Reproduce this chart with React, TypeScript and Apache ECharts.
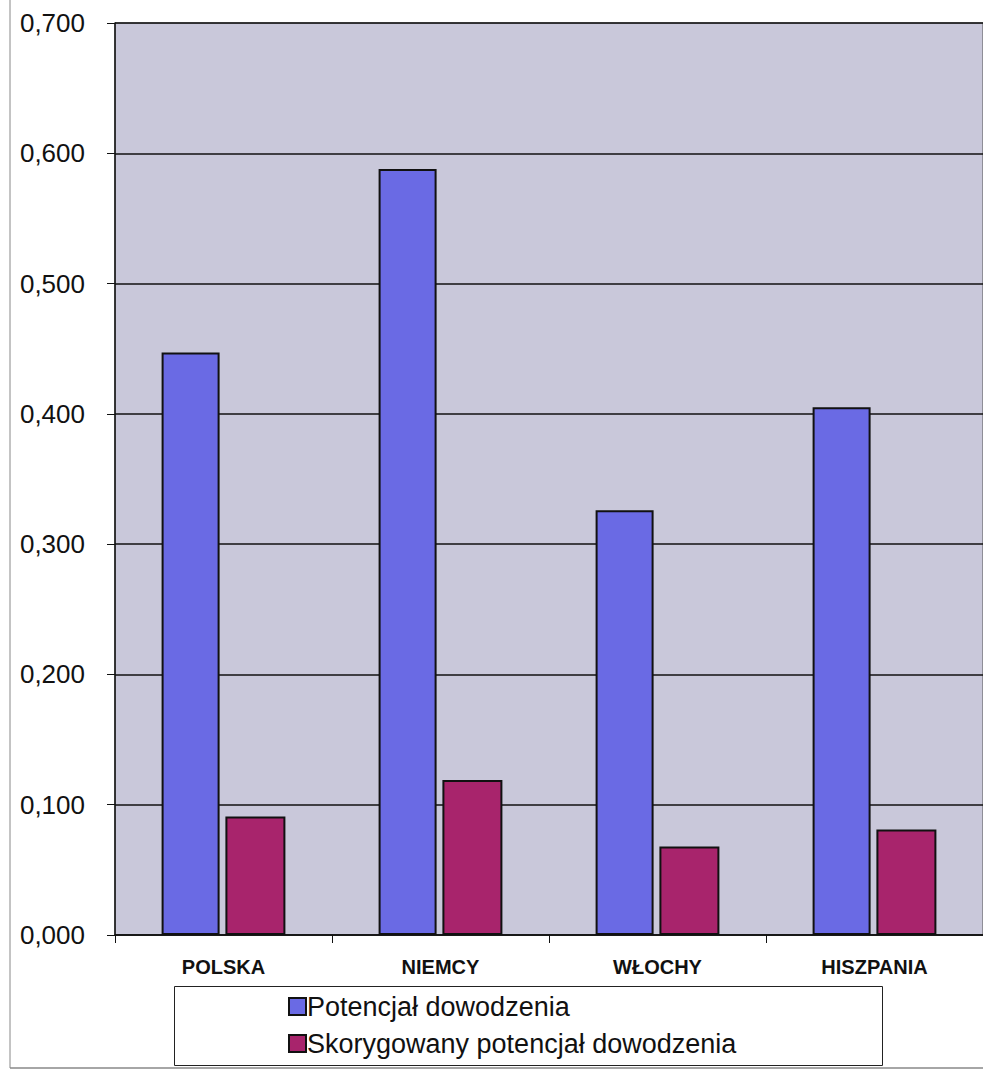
import React, { useEffect, useRef } from "react";
import * as echarts from "echarts";

const categories = ["POLSKA", "NIEMCY", "WŁOCHY", "HISZPANIA"];
const potencjal = [0.447, 0.588, 0.326, 0.405];
const skorygowany = [0.091, 0.119, 0.068, 0.081];
const seriesNames = ["Potencjał dowodzenia", "Skorygowany potencjał dowodzenia"];

export default function App() {
  const ref = useRef<HTMLDivElement>(null);
  useEffect(() => {
    if (!ref.current) return;
    const chart = echarts.init(ref.current, null, { renderer: "svg" });
    const font = "'Liberation Sans', Arial, sans-serif";
    chart.setOption({
      animation: false,
      backgroundColor: "#ffffff",
      textStyle: { fontFamily: font },
      grid: { left: 115, top: 23, right: 0, bottom: 136, show: true, backgroundColor: "#c9c8da", borderColor: "#555", borderWidth: 1 },
      legend: {
        orient: "vertical",
        left: 283,
        top: 988,
        itemGap: 10,
        itemWidth: 17,
        itemHeight: 17,
        icon: "rect",
        textStyle: { fontSize: 27, color: "#111", fontFamily: font, padding: [0, 0, 0, -4] },
        data: seriesNames,
      },
      xAxis: {
        type: "category",
        data: categories,
        axisLine: { lineStyle: { color: "#111", width: 1.5 } },
        axisTick: { show: true, length: 8, lineStyle: { color: "#111" } },
        axisLabel: { fontSize: 20, fontWeight: "bold", color: "#111", margin: 22, fontFamily: font },
      },
      yAxis: {
        type: "value",
        min: 0,
        max: 0.7,
        interval: 0.1,
        axisLine: { show: true, lineStyle: { color: "#111", width: 1.5 } },
        axisTick: { show: true, length: 8, lineStyle: { color: "#111" } },
        splitLine: { lineStyle: { color: "#111", width: 1.5 } },
        axisLabel: {
          fontSize: 26,
          color: "#111",
          margin: 30,
          fontFamily: font,
          formatter: (v: number) => v.toFixed(3).replace(".", ","),
        },
      },
      series: [
        {
          name: seriesNames[0],
          type: "bar",
          data: potencjal,
          barWidth: 58,
          barGap: "10%",
          itemStyle: { color: "#6a6ae4", borderColor: "#111", borderWidth: 2 },
        },
        {
          name: seriesNames[1],
          type: "bar",
          data: skorygowany,
          barWidth: 60,
          itemStyle: { color: "#a8246c", borderColor: "#111", borderWidth: 2 },
        },
      ],
      graphic: [
        { type: "rect", left: 172, top: 984, shape: { width: 708, height: 79 }, style: { fill: "none", stroke: "#222", lineWidth: 1 }, z: -1 },
        { type: "line", shape: { x1: 10, y1: 0, x2: 10, y2: 1068 }, style: { stroke: "#888", lineWidth: 1 } },
        { type: "line", shape: { x1: 10, y1: 1068, x2: 983, y2: 1068 }, style: { stroke: "#888", lineWidth: 1.5 } },
      ],
    });
    return () => chart.dispose();
  }, []);
  return <div ref={ref} style={{ position: "fixed", left: 0, top: 0, width: 983, height: 1071 }} />;
}
